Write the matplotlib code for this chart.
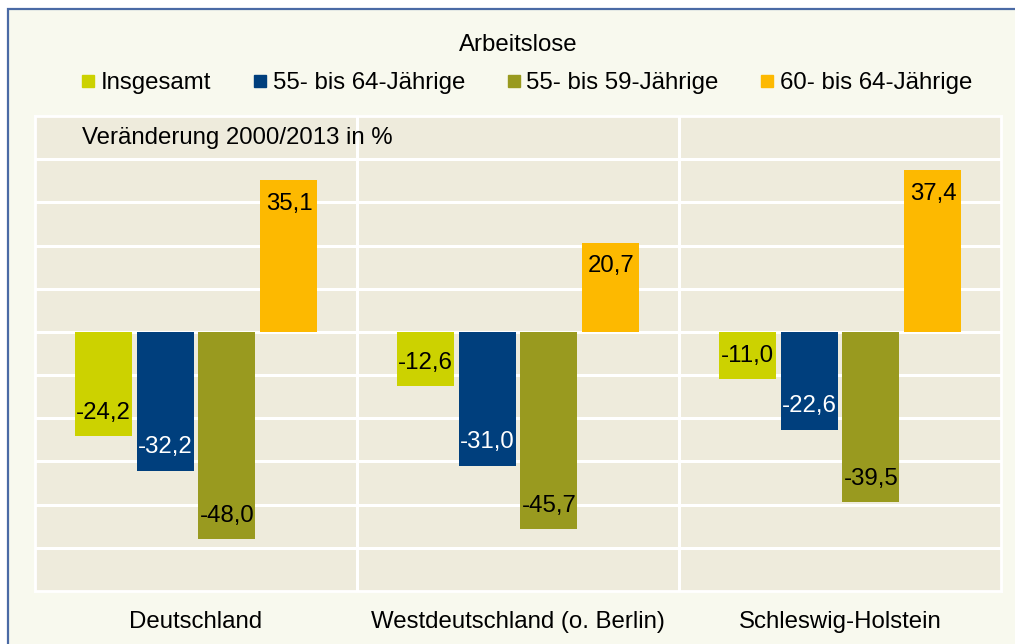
import numpy as np
import matplotlib.pyplot as plt
from matplotlib.lines import Line2D
from matplotlib.patches import Rectangle

plt.rcParams['font.family'] = ['Liberation Sans', 'DejaVu Sans']

# Daten
regionen = ["Deutschland", "Westdeutschland (o. Berlin)", "Schleswig-Holstein"]
serien = ["Insgesamt", "55- bis 64-Jährige", "55- bis 59-Jährige", "60- bis 64-Jährige"]
insgesamt = [-24.2, -12.6, -11.0]
alter_55_64 = [-32.2, -31.0, -22.6]
alter_55_59 = [-48.0, -45.7, -39.5]
alter_60_64 = [35.1, 20.7, 37.4]

werte = [insgesamt, alter_55_64, alter_55_59, alter_60_64]
farben = ["#CCD200", "#003F7D", "#999A1F", "#FDB900"]
label_farben = ["black", "white", "black", "black"]

fs = 17.3

fig = plt.figure(figsize=(10.15, 6.44), dpi=100)
fig.patch.set_facecolor("white")

# Rahmen
fig.patches.append(Rectangle((8 / 1015, -0.01), 1.0, 1 - 9 / 644 + 0.01,
                             transform=fig.transFigure, facecolor="#F8F9EE",
                             edgecolor="#4A6AA5", linewidth=1.6, zorder=-10))

ax = fig.add_axes([35 / 1015, 53 / 644, 966 / 1015, 475 / 644])
ax.set_facecolor("#EEEBDC")

x = np.arange(len(regionen))
breite = 0.177
schritt = 0.1925
for i, (w, f, lf) in enumerate(zip(werte, farben, label_farben)):
    pos = x + (i - 1.5) * schritt
    bars = ax.bar(pos, w, width=breite, color=f, zorder=3)
    for b, v in zip(bars, w):
        off = 17 if v < 0 else -17
        ax.annotate(f"{v:.1f}".replace(".", ","), (b.get_x() + b.get_width() / 2, v),
                    xytext=(0, off), textcoords="offset points",
                    ha="center", va="center", fontsize=fs, color=lf, zorder=4)

ax.set_xlim(-0.5, 2.5)
ax.set_ylim(-60, 50)
ax.set_yticks(np.arange(-50, 50, 10))
ax.yaxis.grid(True, color="white", linewidth=2.2, zorder=0)
ax.set_axisbelow(True)
for xv in [0.5, 1.5]:
    ax.axvline(xv, color="white", linewidth=2.2, zorder=1)
ax.tick_params(axis="y", left=False, labelleft=False)
ax.tick_params(axis="x", bottom=False, pad=11, labelsize=fs)
ax.set_xticks(x)
ax.set_xticklabels(regionen)
for s in ax.spines.values():
    s.set_color("white")
    s.set_linewidth(2)

fig.text(82 / 1015, 1 - 138 / 644, "Veränderung 2000/2013 in %", fontsize=fs,
         ha="left", va="center")

fig.text(518 / 1015, 1 - 45 / 644, "Arbeitslose", fontsize=fs, ha="center", va="center")

handles = [Line2D([], [], marker="s", linestyle="none", markersize=9,
                  markerfacecolor=f, markeredgecolor=f) for f in farben]
fig.legend(handles, serien, loc="center", bbox_to_anchor=(527 / 1015, 1 - 83 / 644),
           ncol=4, frameon=False, fontsize=fs, handlelength=0.55, handletextpad=0.25,
           columnspacing=1.75, borderpad=0)

fig.savefig("out.png", dpi=100, facecolor=fig.get_facecolor())
